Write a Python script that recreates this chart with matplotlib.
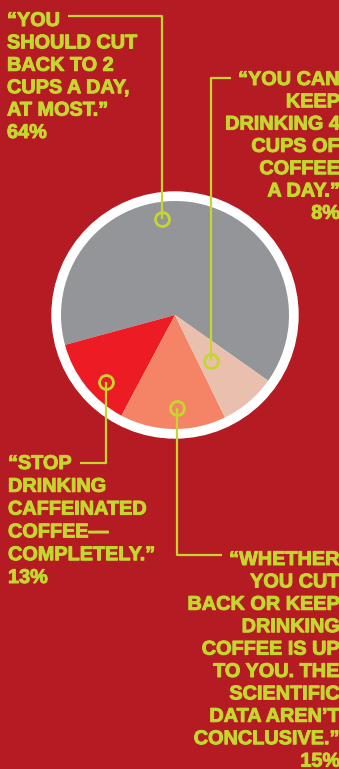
import matplotlib.pyplot as plt
import matplotlib.patheffects as pe
from matplotlib.patches import Circle

# share of answers (percent), order: gray, red, salmon, pink
answers = ["cut back to 2 cups", "stop caffeinated", "up to you", "keep 4 cups"]
shares = [64, 13, 15, 8]
colors = ["#939598", "#ED1C24", "#F58467", "#E9BFAD"]

bg = "#B51B23"
lime = "#C5D72F"

labels_cut = ["\u201cYOU", "SHOULD CUT", "BACK TO 2", "CUPS A DAY,", "AT MOST.\u201d", "64%"]
labels_keep = ["\u201cYOU CAN", "KEEP", "DRINKING 4", "CUPS OF", "COFFEE", "A DAY.\u201d", "8%"]
labels_stop = ["\u201cSTOP", "DRINKING", "CAFFEINATED", "COFFEE\u2014", "COMPLETELY.\u201d", "13%"]
labels_up = ["\u201cWHETHER", "YOU CUT", "BACK OR KEEP", "DRINKING", "COFFEE IS UP",
             "TO YOU. THE", "SCIENTIFIC", "DATA AREN\u2019T", "CONCLUSIVE.\u201d", "15%"]

W, H = 339, 769
fig = plt.figure(figsize=(W / 100, H / 100), dpi=100, facecolor=bg)
ax = fig.add_axes([0, 0, 1, 1])
ax.set_facecolor(bg)

def py(y):
    # pixel row from top -> data y
    return H - y

cx, cy = 175, py(315)
ax.add_patch(Circle((cx, cy), 123, color="white", zorder=1))
wedges, _ = ax.pie(shares, colors=colors, startangle=-35.2, counterclock=True,
                   center=(cx, cy), radius=114,
                   wedgeprops=dict(linewidth=0))
for w in wedges:
    w.set_zorder(2)

ax.set_xlim(0, W)
ax.set_ylim(0, H)
ax.set_aspect("equal")
ax.axis("off")

lw = 1.6
# leader lines (pixel coords), last point = dot on the slice
leaders = [
    [(68, 16), (162, 16), (162, 219)],
    [(231, 78), (211, 78), (211, 361)],
    [(80, 463), (106, 463), (106, 382)],
    [(222, 555), (177, 555), (177, 408)],
]
for pts in leaders:
    xs = [p[0] for p in pts]
    ys = [py(p[1]) for p in pts]
    ax.plot(xs, ys, color=lime, lw=lw, zorder=3, solid_capstyle="butt")
    ax.plot(xs[-1], ys[-1], "o", ms=10, mfc="none", mec=lime, mew=2, zorder=4)

font = dict(family="Liberation Sans", fontweight="bold", fontsize=14.3, color=lime,
            path_effects=[pe.withStroke(linewidth=0.7, foreground=lime)])

def block(lines, x, y0, step, ha):
    for i, s in enumerate(lines):
        ax.text(x, py(y0 + i * step), s, ha=ha, va="baseline", **font)

block(labels_cut, 7, 26, 22.4, "left")
block(labels_keep, 340, 85, 22.3, "right")
block(labels_stop, 8, 469, 22.8, "left")
block(labels_up, 340, 565, 22.4, "right")

fig.savefig("out.png", dpi=100, facecolor=bg)
